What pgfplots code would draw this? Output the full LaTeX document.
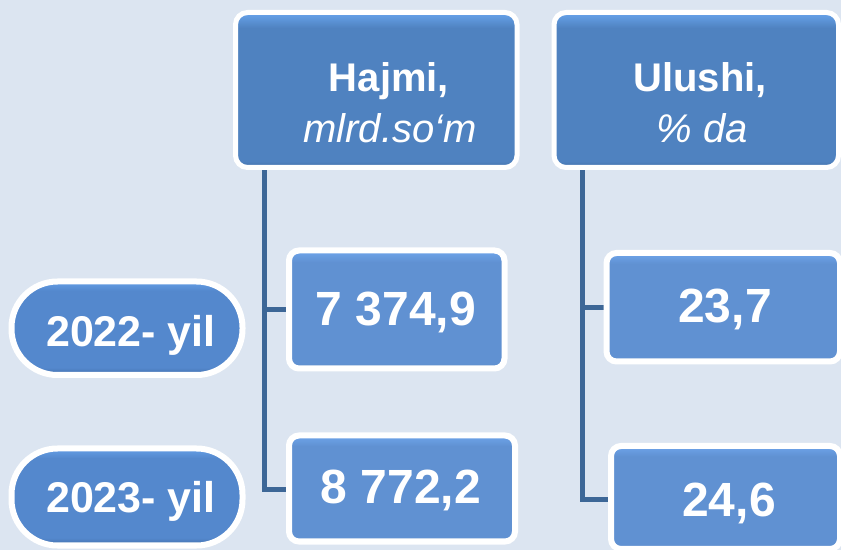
\documentclass[border=0pt]{standalone}
\usepackage{pgfplots}
\pgfplotsset{compat=1.18}
\usepackage{fontspec}
\setmainfont{Liberation Sans}
\definecolor{bg}{RGB}{220,229,241}
\definecolor{hdr}{RGB}{79,130,192}
\definecolor{hdrtop}{RGB}{104,164,236}
\definecolor{hdrbot}{RGB}{66,112,168}
\definecolor{val}{RGB}{96,145,210}
\definecolor{valtop}{RGB}{110,165,235}
\definecolor{valbot}{RGB}{78,122,180}
\definecolor{pill}{RGB}{84,136,205}
\definecolor{pilltop}{RGB}{100,158,230}
\definecolor{pillbot}{RGB}{66,110,170}
\definecolor{lnc}{RGB}{61,103,151}
\pgfdeclareverticalshading{hdrsh}{100bp}{color(0bp)=(hdrbot); color(25bp)=(hdrbot); color(27bp)=(hdr); color(70bp)=(hdr); color(75bp)=(hdrtop); color(100bp)=(hdrtop)}
\pgfdeclareverticalshading{valsh}{100bp}{color(0bp)=(valbot); color(25bp)=(valbot); color(27bp)=(val); color(70bp)=(val); color(75bp)=(valtop); color(100bp)=(valtop)}
\pgfdeclareverticalshading{pillsh}{100bp}{color(0bp)=(pillbot); color(25bp)=(pillbot); color(29bp)=(pill); color(70bp)=(pill); color(75bp)=(pilltop); color(100bp)=(pilltop)}
\begin{document}
\begin{tikzpicture}
\useasboundingbox (0,0) rectangle (841bp,550bp);
\begin{axis}[at={(0,0)}, anchor=south west,
  width=841bp, height=550bp, scale only axis,
  xmin=0, xmax=841, ymin=0, ymax=550,
  axis lines=none, xtick=\empty, ytick=\empty,
  axis background/.style={fill=bg},
  every node near coord/.append style={anchor=base, inner sep=0pt, text=white},
]
% connector lines
\addplot[lnc, line width=5bp, mark=none] coordinates {(264.5,383) (264.5,60) (289,60)};
\addplot[lnc, line width=5bp, mark=none] coordinates {(264.5,240) (289,240)};
\addplot[lnc, line width=5bp, mark=none] coordinates {(582,383) (582,50) (611,50)};
\addplot[lnc, line width=5bp, mark=none] coordinates {(582,242) (606,242)};
% header boxes
\addplot[draw=white, line width=5bp, rounded corners=12bp, shading=hdrsh, mark=none]
  coordinates {(376,537.5) (517,537.5) (517,382.5) (235.5,382.5) (235.5,537.5) (376,537.5)};
\addplot[draw=white, line width=5bp, rounded corners=12bp, shading=hdrsh, mark=none]
  coordinates {(696,537.5) (838.5,537.5) (838.5,382.5) (554,382.5) (554,537.5) (696,537.5)};
% value boxes
\addplot[draw=white, line width=6bp, rounded corners=10bp, shading=valsh, mark=none]
  coordinates {(397,299.5) (504.5,299.5) (504.5,181.5) (289,181.5) (289,299.5) (397,299.5)};
\addplot[draw=white, line width=6bp, rounded corners=10bp, shading=valsh, mark=none]
  coordinates {(402,114.5) (515,114.5) (515,8.5) (289,8.5) (289,114.5) (402,114.5)};
\addplot[draw=white, line width=6bp, rounded corners=10bp, shading=valsh, mark=none]
  coordinates {(723,297) (840,297) (840,188.5) (606.5,188.5) (606.5,297) (723,297)};
\addplot[draw=white, line width=6bp, rounded corners=10bp, shading=valsh, mark=none]
  coordinates {(725,104) (840,104) (840,1) (611,1) (611,104) (725,104)};
% year pills
\addplot[draw=white, line width=6bp, rounded corners=46bp, shading=pillsh, mark=none]
  coordinates {(127,268.5) (242.5,268.5) (242.5,175) (11.5,175) (11.5,268.5) (127,268.5)};
\addplot[draw=white, line width=6bp, rounded corners=46bp, shading=pillsh, mark=none]
  coordinates {(127,101.5) (242.5,101.5) (242.5,4.5) (11.5,4.5) (11.5,101.5) (127,101.5)};
% header texts
\addplot[draw=none, mark=none, point meta=explicit symbolic, nodes near coords,
  every node near coord/.append style={font=\fontsize{40bp}{44bp}\selectfont\bfseries}]
  coordinates {(389,458) [{Hajmi,}] (700,458) [{Ulushi,}]};
\addplot[draw=none, mark=none, point meta=explicit symbolic, nodes near coords,
  every node near coord/.append style={font=\fontsize{40bp}{44bp}\selectfont\itshape}]
  coordinates {(390,407) [{mlrd.so‘m}] (702,407) [{\% da}]};
% years
\addplot[draw=none, mark=none, point meta=explicit symbolic, nodes near coords,
  every node near coord/.append style={font=\fontsize{43bp}{46bp}\selectfont\bfseries}]
  coordinates {(131,204) [{2022- yil}] (131,38) [{2023- yil}]};
% volume values
\addplot[draw=none, mark=none, point meta=explicit, nodes near coords,
  /pgf/number format/.cd, fixed, fixed zerofill, precision=1, use comma, 1000 sep={\ }, assume math mode=true,
  /pgfplots/.cd,
  every node near coord/.append style={font=\fontsize{48bp}{50bp}\selectfont\bfseries}]
  coordinates {(396,225) [7374.9] (401,47) [8772.2]};
% share values
\addplot[draw=none, mark=none, point meta=explicit, nodes near coords,
  /pgf/number format/.cd, fixed, fixed zerofill, precision=1, use comma, assume math mode=true,
  /pgfplots/.cd,
  every node near coord/.append style={font=\fontsize{48bp}{50bp}\selectfont\bfseries}]
  coordinates {(725,228) [23.7] (729,34) [24.6]};
\end{axis}
\end{tikzpicture}
\end{document}
